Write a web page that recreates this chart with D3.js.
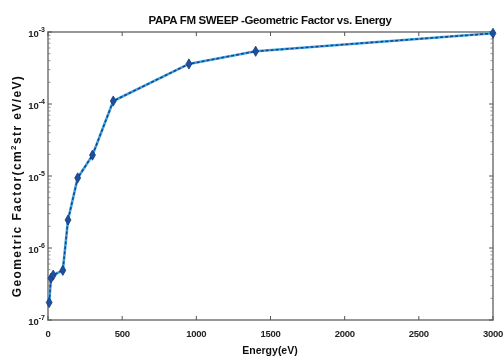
<!DOCTYPE html>
<html>
<head>
<meta charset="utf-8">
<script src="https://cdn.jsdelivr.net/npm/d3@7"></script>
<style>
  html, body { margin: 0; padding: 0; background: #fff; }
  svg { display: block; font-family: "Liberation Sans", Arial, sans-serif; }
</style>
</head>
<body>
<svg id="chart" width="503" height="356"></svg>
<script>
// Geometric factor sweep, energy (eV) vs geometric factor
const energy = [8, 20, 35, 100, 135, 200, 300, 440, 950, 1400, 3000];
const geoFactor = [1.75e-7, 3.8e-7, 4.2e-7, 4.9e-7, 2.45e-6, 9.4e-6, 1.95e-5, 1.1e-4, 3.6e-4, 5.4e-4, 9.6e-4];
const xTicks = [0, 500, 1000, 1500, 2000, 2500, 3000];
const yDecades = [-7, -6, -5, -4, -3];

const svg = d3.select("#chart");
const margin = { left: 48, right: 10, top: 32, bottom: 36 };
const W = 503, H = 356;
const x = d3.scaleLinear().domain([0, 3000]).range([margin.left, W - margin.right]);
const y = d3.scaleLog().domain([1e-7, 1e-3]).range([H - margin.bottom, margin.top]);

const x0 = x.range()[0], x1 = x.range()[1];
const y0 = y.range()[0], y1 = y.range()[1];

const defs = svg.append("defs");
defs.append("filter").attr("id", "soft")
  .append("feGaussianBlur").attr("stdDeviation", 0.5);

const g = svg.append("g").attr("filter", "url(#soft)");

// axes box
g.append("rect")
  .attr("x", x0).attr("y", y1)
  .attr("width", x1 - x0).attr("height", y0 - y1)
  .attr("fill", "none").attr("stroke", "#8c8c8c").attr("stroke-width", 1.8);

// x ticks (bottom and top, pointing inward)
const tickLen = 4;
g.append("g").selectAll("line.xb").data(xTicks).join("line")
  .attr("x1", d => x(d)).attr("x2", d => x(d))
  .attr("y1", y0).attr("y2", y0 - tickLen)
  .attr("stroke", "#555").attr("stroke-width", 1);
g.append("g").selectAll("line.xt").data(xTicks).join("line")
  .attr("x1", d => x(d)).attr("x2", d => x(d))
  .attr("y1", y1).attr("y2", y1 + tickLen)
  .attr("stroke", "#555").attr("stroke-width", 1);

// y ticks: major decades and minor log ticks on both sides
const minor = [];
for (let k = -7; k < -3; k++) {
  for (let m = 2; m <= 9; m++) minor.push(m * Math.pow(10, k));
}
const major = yDecades.map(k => Math.pow(10, k));
[[x0, 1], [x1, -1]].forEach(([xx, dir]) => {
  g.append("g").selectAll("line").data(major).join("line")
    .attr("x1", xx).attr("x2", xx + dir * tickLen)
    .attr("y1", d => y(d)).attr("y2", d => y(d))
    .attr("stroke", "#555").attr("stroke-width", 1);
  g.append("g").selectAll("line").data(minor).join("line")
    .attr("x1", xx).attr("x2", xx + dir * 2.5)
    .attr("y1", d => y(d)).attr("y2", d => y(d))
    .attr("stroke", "#777").attr("stroke-width", 0.8);
});

// x tick labels
g.append("g").selectAll("text").data(xTicks).join("text")
  .attr("x", d => x(d)).attr("y", y0 + 17)
  .attr("text-anchor", "middle")
  .attr("font-size", 9.5).attr("font-weight", "bold").attr("fill", "#222")
  .attr("letter-spacing", -0.3)
  .text(d => d);

// y tick labels: 10 with superscript exponent
const yl = g.append("g").selectAll("text").data(yDecades).join("text")
  .attr("x", x0 - 3).attr("y", d => y(Math.pow(10, d)) + 5)
  .attr("text-anchor", "end")
  .attr("font-size", 9.5).attr("font-weight", "bold").attr("fill", "#222");
yl.append("tspan").text("10");
yl.append("tspan").attr("dy", -5).attr("font-size", 7).text(d => d);

// title
g.append("text")
  .attr("x", 270).attr("y", 24)
  .attr("text-anchor", "middle")
  .attr("font-size", 11.5).attr("font-weight", "bold").attr("fill", "#111")
  .attr("letter-spacing", -0.35)
  .text("PAPA FM SWEEP -Geometric Factor vs. Energy");

// x label
g.append("text")
  .attr("x", 270).attr("y", 354)
  .attr("text-anchor", "middle")
  .attr("font-size", 10.5).attr("font-weight", "bold").attr("fill", "#111")
  .text("Energy(eV)");

// y label
const ylab = g.append("text")
  .attr("transform", `translate(21, 186) rotate(-90)`)
  .attr("text-anchor", "middle")
  .attr("font-size", 12).attr("font-weight", "bold").attr("fill", "#111")
  .attr("letter-spacing", 1.4);
ylab.append("tspan").text("Geometric Factor(cm");
ylab.append("tspan").attr("dy", -5).attr("font-size", 8).text("2");
ylab.append("tspan").attr("dy", 5).text("str eV/eV)");

// data line: blue line with dark dashed overlay
const pts = energy.map((e, i) => [e, geoFactor[i]]);
const line = d3.line().x(d => x(d[0])).y(d => y(d[1]));
g.append("path").datum(pts).attr("d", line)
  .attr("fill", "none").attr("stroke", "#3fa7e0").attr("stroke-width", 2.6);
g.append("path").datum(pts).attr("d", line)
  .attr("fill", "none").attr("stroke", "#1a3f8c").attr("stroke-width", 1.5)
  .attr("stroke-dasharray", "3,2");

// diamond markers
g.append("g").selectAll("path").data(pts).join("path")
  .attr("transform", d => `translate(${x(d[0])},${y(d[1])})`)
  .attr("d", d3.symbol().type(d3.symbolDiamond).size(30))
  .attr("fill", "#1f4f9c").attr("stroke", "#143a7a").attr("stroke-width", 0.8);
</script>
</body>
</html>
